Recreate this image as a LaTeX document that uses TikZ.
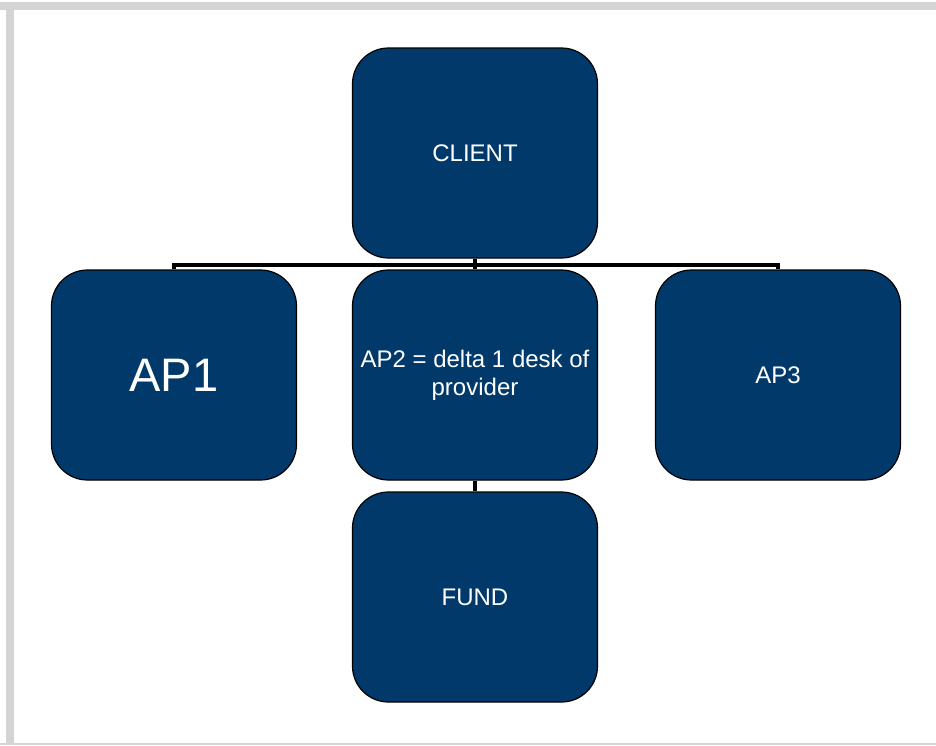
\documentclass[tikz,border=0pt]{standalone}
\usepackage{fontspec}
\setmainfont{Liberation Sans}
\definecolor{navy}{RGB}{1,58,106}
\definecolor{framegray}{RGB}{212,212,212}
\begin{document}
\begin{tikzpicture}[x=1pt,y=-1pt,
  box/.style={draw=black, line width=1.2pt, fill=navy, rounded corners=36pt,
    minimum width=245pt, minimum height=210pt, text=white, align=center,
    font=\fontsize{24}{28}\selectfont, inner sep=2pt},
  conn/.style={draw=black, line width=4pt}]
\useasboundingbox (0,0) rectangle (936,745);
\fill[white] (0,0) rectangle (936,745);
\fill[framegray] (0,2) rectangle (936,10);
\fill[framegray] (6,2) rectangle (14,745);
\fill[framegray] (0,743) rectangle (936,745);
\node[box] (client) at (475,153) {CLIENT};
\node[box] (ap1) at (174,375) {\fontsize{47}{52}\selectfont AP1};
\node[box] (ap2) at (475,375) {AP2 = delta 1 desk of\\provider};
\node[box] (ap3) at (778,375) {AP3};
\node[box] (fund) at (475,597) {FUND};
\coordinate (bus) at (475,264.5);
\draw[conn] (client.south) -- (ap2.north);
\draw[conn] (ap1.north) |- (bus) -| (ap3.north);
\draw[conn] (ap2.south) -- (fund.north);
\end{tikzpicture}
\end{document}
